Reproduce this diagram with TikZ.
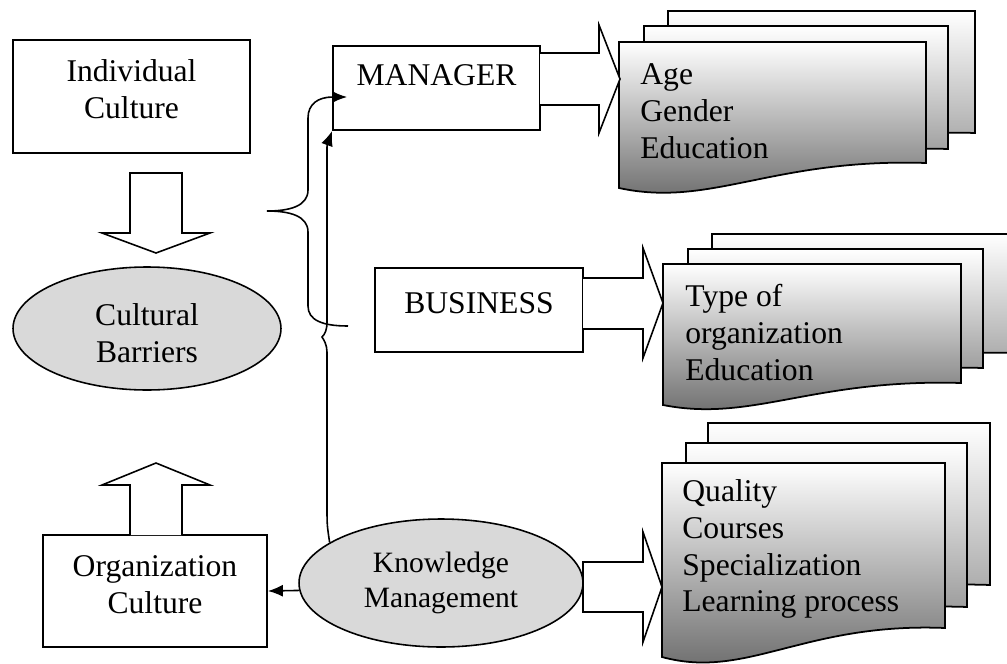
\documentclass[tikz,border=0pt]{standalone}
\usepackage{fontspec}
\setmainfont{Liberation Serif}
\usepackage{tikz}
\usetikzlibrary{positioning,shapes.geometric,arrows.meta,calc}

\newcommand{\docpage}[6]{%
  \draw[page, top color=white, bottom color=#6]
    (#1,#2) -- (#3,#2) -- (#3,#4)
    .. controls ({#1+0.5*(#3-#1)},{#4-0.2*#5}) and ({#1+0.3*(#3-#1)},{#4+1.8*#5}) .. (#1,{#4+#5})
    -- cycle;}

\begin{document}
\begin{tikzpicture}[x=0.02cm, y=-0.02cm,
  box/.style={draw, line width=1pt, inner sep=0pt, align=center, font=\fontsize{18}{21}\selectfont},
  oval/.style={draw, ellipse, fill=gray!30, line width=0.9pt, inner sep=0pt, align=center},
  fat/.style={draw, fill=white, line width=0.9pt, line join=miter},
  page/.style={draw, line width=1pt},
  pagetext/.style={anchor=west, align=left, inner sep=0pt, font=\fontsize{18}{21}\selectfont},
  link/.style={line width=0.9pt, -{Latex[length=3mm,width=2.4mm]}}]
\useasboundingbox (0,0) rectangle (1007,663);

\node[box, minimum width=4.74cm, minimum height=2.26cm, text depth=0.29cm] (indiv) at (131.5,96.5) {Individual\\Culture};
\node[oval, minimum width=5.36cm, minimum height=2.46cm, text height=1.36cm, font=\fontsize{18}{21}\selectfont] (barr) at (147,328.5) {Cultural\\Barriers};
\node[box, minimum width=4.48cm, minimum height=2.24cm, text depth=0.25cm] (org) at (155,591) {Organization\\Culture};
\node[box, minimum width=4.14cm, minimum height=1.68cm, text depth=0.52cm] (mgr) at (436.5,88) {MANAGER};
\node[box, minimum width=4.16cm, minimum height=1.68cm, text depth=0.28cm] (bus) at (479,310) {BUSINESS};
\node[oval, minimum width=5.68cm, minimum height=2.56cm, font=\fontsize{16.8}{20}\selectfont] (km) at (441,583) {Knowledge\\Management};

\docpage{668}{11}{975}{133}{25}{black!42}
\docpage{644}{26}{948}{149}{25}{black!50}
\docpage{619}{42}{926}{163}{25}{black!60}
\node[pagetext] (mgrlist) at (640,111) {Age\\Gender\\Education};

\docpage{712}{234}{1015}{353}{22}{black!42}
\docpage{688}{249}{983}{368}{22}{black!50}
\docpage{663}{264}{961}{383}{22}{black!60}
\node[pagetext] (buslist) at (685,332.5) {Type of\\organization\\Education};

\docpage{708}{423}{990}{585}{29}{black!42}
\docpage{686}{443}{967}{607}{29}{black!50}
\docpage{662}{463}{945}{628}{29}{black!60}
\node[pagetext] (kmlist) at (682,549) {Quality\\Courses\\Specialization\\Learning process};

\draw[fat] (130,173) -- (182,173) -- (182,233) -- (210,233) -- (156,253) -- (102,233) -- (130,233) -- cycle;
\draw[fat] (130,535) -- (130,485) -- (102,485) -- (156,463) -- (210,485) -- (182,485) -- (182,535);

\draw[fat] (540,53) -- (599,53) -- (599,25) -- (620,79) -- (599,133) -- (599,105) -- (540,105);
\draw[fat] (583,278) -- (643,278) -- (643,248) -- (663,303) -- (643,358) -- (643,329) -- (583,329);
\draw[fat] (583,562) -- (643,562) -- (643,532) -- (662,587) -- (643,642) -- (643,612) -- (583,612) -- cycle;

\draw[link] (348,326) .. controls (322,326) and (308,320) .. (308,306) -- (308,232)
  .. controls (308,216) and (290,211) .. (267,211)
  .. controls (290,211) and (308,206) .. (308,190) -- (308,118)
  .. controls (308,104) and (318,97) .. ($(mgr.west)+(15,9)$);
\draw[link] (km.160) .. controls (327,525) .. (327,505) -- (327,352)
  .. controls (327,345) and (324,340) .. (322,337)
  .. controls (325,334) and (327,330) .. (327,322) -- (327,160)
  .. controls (327,145) .. (mgr.south west);
\draw[link] (km.183) -- (org.east);
\end{tikzpicture}
\end{document}
